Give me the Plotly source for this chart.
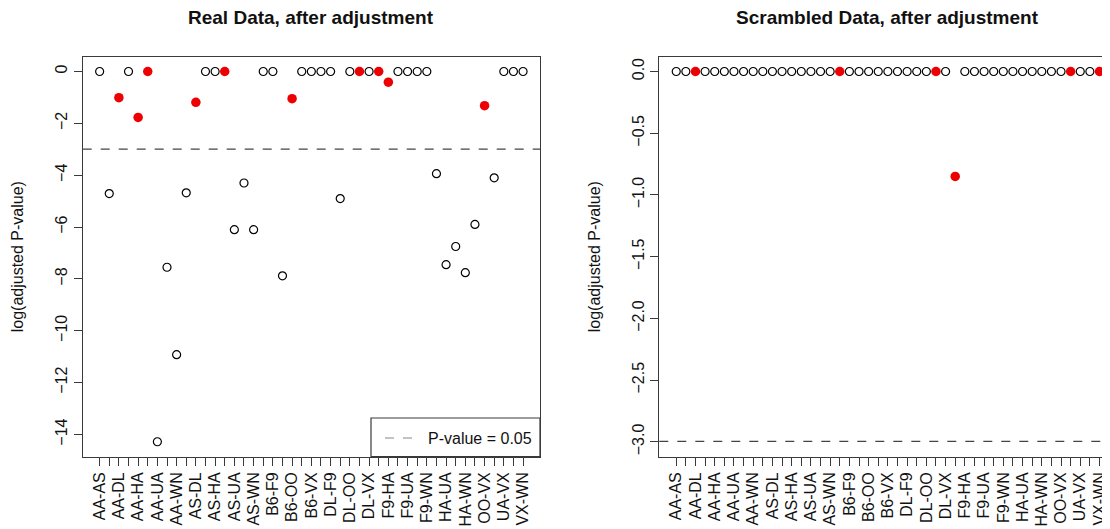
import math
import plotly.graph_objects as go

pairs = ["AA-AS", "AA-B6", "AA-DL", "AA-F9", "AA-HA", "AA-OO", "AA-UA", "AA-VX", "AA-WN",
         "AS-B6", "AS-DL", "AS-F9", "AS-HA", "AS-OO", "AS-UA", "AS-VX", "AS-WN",
         "B6-DL", "B6-F9", "B6-HA", "B6-OO", "B6-UA", "B6-VX", "B6-WN",
         "DL-F9", "DL-HA", "DL-OO", "DL-UA", "DL-VX", "DL-WN",
         "F9-HA", "F9-OO", "F9-UA", "F9-VX", "F9-WN",
         "HA-OO", "HA-UA", "HA-VX", "HA-WN",
         "OO-UA", "OO-VX", "OO-WN",
         "UA-VX", "UA-WN", "VX-WN"]

real_logp = [0, -4.71, -1.01, 0, -1.77, 0, -14.28, -7.55, -10.92,
             -4.68, -1.19, 0, 0, 0, -6.10, -4.30, -6.10,
             0, 0, -7.88, -1.05, 0, 0, 0,
             0, -4.90, 0, 0, 0, 0,
             -0.41, 0, 0, 0, 0,
             -3.94, -7.45, -6.75, -7.76,
             -5.90, -1.32, -4.10,
             0, 0, 0]
real_highlight = ["AA-DL", "AA-HA", "AA-OO", "AS-DL", "AS-OO", "B6-OO",
                  "DL-UA", "DL-WN", "F9-HA", "OO-VX"]

scr_logp = [0, 0, 0, 0, 0, 0, 0, 0, 0,
            0, 0, 0, 0, 0, 0, 0, 0,
            0, 0, 0, 0, 0, 0, 0,
            0, 0, 0, 0, 0, -0.85,
            0, 0, 0, 0, 0,
            0, 0, 0, 0,
            0, 0, 0,
            0, 0, 0]
scr_highlight = ["AA-DL", "B6-DL", "DL-UA", "DL-WN", "OO-WN", "VX-WN"]

threshold = math.log(0.05)
legend_label = "P-value = 0.05"
titles = ["Real Data, after adjustment", "Scrambled Data, after adjustment"]
ylab = "log(adjusted P-value)"

idx = list(range(1, len(pairs) + 1))
ticktext = [p if i % 2 == 0 else "" for i, p in enumerate(pairs)]

FONT = "Liberation Sans, Arial, Helvetica, sans-serif"
AX = "#3a3a3a"
TXT = "#111"

fig = go.Figure()


def add_panel(vals, hl, xa, ya):
    xo = [i for i, p in zip(idx, pairs) if p not in hl]
    yo = [v for v, p in zip(vals, pairs) if p not in hl]
    xr = [i for i, p in zip(idx, pairs) if p in hl]
    yr = [v for v, p in zip(vals, pairs) if p in hl]
    fig.add_trace(go.Scatter(x=xo, y=yo, mode="markers", xaxis=xa, yaxis=ya,
                             marker=dict(symbol="circle-open", size=8, color="black",
                                         line=dict(width=1.2, color="black")),
                             showlegend=False, cliponaxis=False))
    fig.add_trace(go.Scatter(x=xr, y=yr, mode="markers", xaxis=xa, yaxis=ya,
                             marker=dict(symbol="circle", size=9.5, color="#ee0000"),
                             showlegend=False, cliponaxis=False))


add_panel(real_logp, real_highlight, "x", "y")
add_panel(scr_logp, scr_highlight, "x2", "y2")

# page has an 8px body margin: figure coords = page coords - 8
OFF = 8
W, H = 1110 - OFF, 529 - OFF


def px(x):
    return (x - OFF) / W


def py(y):
    return (H - (y - OFF)) / H


ydom = [py(456.7), py(56.7)]
xdom1 = [px(82.7), px(540)]
xdom2 = [px(659.3), 1.0]

xcommon = dict(tickmode="array", tickvals=idx, ticktext=ticktext, tickangle=-90,
               ticks="outside", ticklen=8, tickcolor=AX, tickwidth=1, automargin=False,
               showgrid=False, zeroline=False, showline=True, linecolor=AX,
               linewidth=1.3, tickfont=dict(family=FONT, size=16, color=TXT))
ycommon = dict(ticks="outside", ticklen=8, tickcolor=AX, tickwidth=1, tickangle=-90,
               automargin=False,
               showgrid=False, zeroline=False, showline=True, linecolor=AX,
               linewidth=1.3, tickfont=dict(family=FONT, size=16, color=TXT),
               title=dict(text=ylab, font=dict(family=FONT, size=16, color=TXT), standoff=25))

fig.update_layout(
    width=W, height=H, autosize=False,
    margin=dict(l=0, r=0, t=0, b=0),
    plot_bgcolor="white", paper_bgcolor="white",
    xaxis=dict(domain=xdom1, range=[-0.76, 46.76], mirror=True, anchor="y", **xcommon),
    yaxis=dict(domain=ydom, range=[-14.857, 0.571], mirror=True, anchor="x",
               tickvals=[0, -2, -4, -6, -8, -10, -12, -14], **ycommon),
    xaxis2=dict(domain=xdom2, range=[-0.76, 46.09], mirror=True, anchor="y2", **xcommon),
    yaxis2=dict(domain=ydom, range=[-3.12, 0.12], anchor="x2",
                tickvals=[0, -0.5, -1, -1.5, -2, -2.5, -3], tickformat=".1f", **ycommon),
    showlegend=False,
)

for xa, ya in [("x", "y"), ("x2", "y2")]:
    fig.add_shape(type="line", xref=f"{xa} domain", yref=ya, x0=0, x1=1,
                  y0=threshold, y1=threshold,
                  line=dict(color="#444", width=1.2, dash="dash"))

# legend box (bottom-right of left panel)
fig.add_shape(type="rect", xref="x domain", yref="y domain",
              x0=(371 - 82.7) / (540 - 82.7), x1=1, y0=0, y1=(456.7 - 418) / 400,
              line=dict(color=AX, width=1.2), fillcolor="white", layer="above")
fig.add_shape(type="line", xref="x domain", yref="y domain",
              x0=(385 - 82.7) / (540 - 82.7), x1=(413 - 82.7) / (540 - 82.7),
              y0=(456.7 - 438) / 400, y1=(456.7 - 438) / 400,
              line=dict(color="#888", width=1.2, dash="dash"), layer="above")
fig.add_annotation(xref="x domain", yref="y domain",
                   x=(426 - 82.7) / (540 - 82.7), y=(456.7 - 438) / 400,
                   text=legend_label, showarrow=False, xanchor="left", yanchor="middle",
                   font=dict(family=FONT, size=16, color=TXT))

for t, (a, b) in zip(titles, [(82.7, 540), (659.3, 1116.5)]):
    fig.add_annotation(xref="paper", yref="paper", x=px((a + b) / 2), y=py(18),
                       text=f"<b>{t}</b>", showarrow=False, xanchor="center", yanchor="middle",
                       font=dict(family=FONT, size=19, color=TXT))

fig.write_html("out.html")
